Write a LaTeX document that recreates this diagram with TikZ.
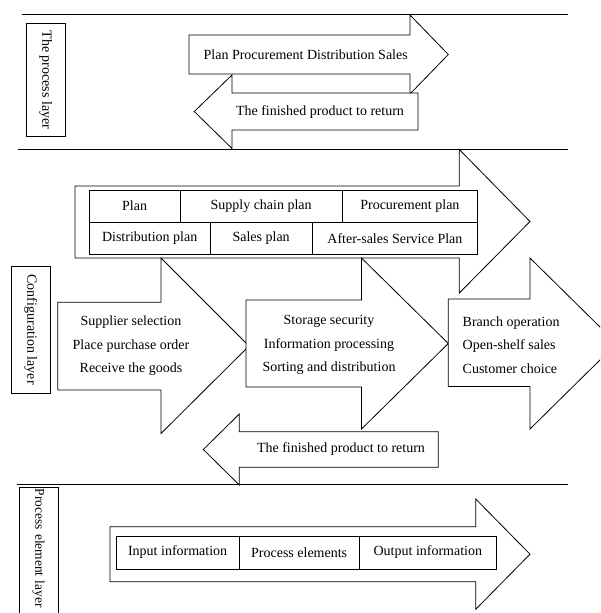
\documentclass[tikz,border=0pt]{standalone}
\usepackage{fontspec}
\setmainfont{Liberation Serif}
\usetikzlibrary{positioning}
\tikzset{bigarrow/.style={draw, fill=white, line join=miter},
         layerbox/.style={draw, fill=white, rotate=-90, minimum height=38.3pt,
                          inner sep=2pt, font=\fontsize{14}{16}\selectfont},
         cell/.style={draw, line width=0.9pt, minimum height=32.2pt, inner sep=0pt,
                      outer sep=0pt, font=\fontsize{14}{16}\selectfont},
         words/.style={inner sep=0pt, align=center, font=\fontsize{14}{23.5}\selectfont},
         rule/.style={line width=0.9pt}}

\begin{document}
\begin{tikzpicture}[x=1pt, y=-1pt, line width=0.8pt]
  \clip (0,0) rectangle (600,613);

  \draw[rule] (21.7,14.3) -- (568.3,14.3);
  \draw[rule] (18.3,149.3) -- (568.3,149.3);
  \draw[rule] (16.7,484.3) -- (568.3,484.3);

  \node[layerbox, minimum width=113.4pt] (proclayer) at (45.8,80) {The process layer};
  \node[layerbox, minimum width=127.3pt] (conflayer) at (30.85,329.65) {Configuration layer};
  \node[layerbox, minimum height=39.3pt, text width=134pt, align=left, anchor=west,
        inner sep=1pt, font=\fontsize{13.4}{16}\selectfont]
       (elemlayer) at (38.65,487.3) {Process element layer};

  \draw[bigarrow] (189,35) -- (410,35) -- (410,15) -- (448.3,54.5) -- (410,94) -- (410,74) -- (189,74) -- cycle;
  \draw[bigarrow] (418,93) -- (232,93) -- (232,75) -- (194.3,111.5) -- (232,148.5) -- (232,130) -- (418,130) -- cycle;
  \node[words] (flow) at (305.7,55) {Plan Procurement Distribution Sales};
  \node[words] (return1) at (320,112) {The finished product to return};

  \draw[bigarrow] (75,186) -- (459.3,186) -- (459.3,149.5) -- (530,221.5) -- (459.3,293) -- (459.3,258) -- (75,258) -- cycle;
  \node[cell, minimum width=90.7pt, anchor=north west] (plan) at (89.3,190) {Plan};
  \node[cell, minimum width=162.3pt, right=0pt of plan] (scplan) {Supply chain plan};
  \node[cell, minimum width=135.2pt, right=0pt of scplan] (procplan) {Procurement plan};
  \node[cell, minimum width=120.7pt, anchor=north west] (distplan) at (plan.south west) {Distribution plan};
  \node[cell, minimum width=102.3pt, right=0pt of distplan] (salesplan) {Sales plan};
  \node[cell, minimum width=165.2pt, right=0pt of salesplan] (serviceplan) {After-sales Service Plan};

  \draw[bigarrow] (57.7,302.3) -- (161,302.3) -- (161,258) -- (249,346) -- (161,433.5) -- (161,390) -- (57.7,390) -- cycle;
  \draw[bigarrow] (246,300) -- (361.5,300) -- (361.5,258) -- (448.3,343.5) -- (361.5,429) -- (361.5,387) -- (246,387) -- cycle;
  \draw[bigarrow] (448.3,299) -- (530,299) -- (530,258) -- (616.7,343.5) -- (530,429) -- (530,386.5) -- (448.3,386.5) -- cycle;
  \node[words] (purchase) at (131,345.7) {Supplier selection\\Place purchase order\\Receive the goods};
  \node[words] (storage) at (329,345) {Storage security\\Information processing\\Sorting and distribution};
  \node[words, align=left, anchor=west] (sales) at (462.3,345) {Branch operation\\Open-shelf sales\\Customer choice};

  \draw[bigarrow] (438.3,431.7) -- (239.3,431.7) -- (239.3,414) -- (203.3,449.5) -- (239.3,485) -- (239.3,467.3) -- (438.3,467.3) -- cycle;
  \node[words] (return2) at (341,449.5) {The finished product to return};

  \draw[bigarrow] (110,526.7) -- (475.7,526.7) -- (475.7,499) -- (530,554.2) -- (475.7,609.3) -- (475.7,581.7) -- (110,581.7) -- cycle;
  \node[cell, minimum width=123.3pt, minimum height=33pt, anchor=north west] (input) at (116,536) {Input information};
  \node[cell, minimum width=119.7pt, minimum height=33pt, right=0pt of input] (elements) {Process elements};
  \node[cell, minimum width=137.7pt, minimum height=33pt, right=0pt of elements] (output) {Output information};
\end{tikzpicture}
\end{document}
